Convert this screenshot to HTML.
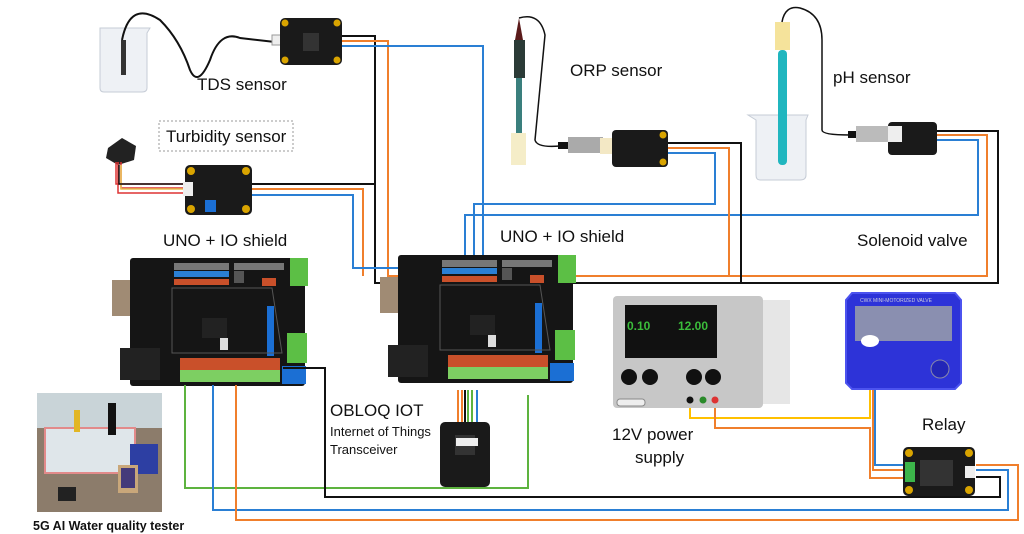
<!DOCTYPE html>
<html><head><meta charset="utf-8"><style>
html,body{margin:0;padding:0;background:#fff;width:1024px;height:534px;overflow:hidden}
svg{display:block}
text{font-family:"Liberation Sans","DejaVu Sans",sans-serif;fill:#111}
</style></head><body>
<svg width="1024" height="534" viewBox="0 0 1024 534" xmlns="http://www.w3.org/2000/svg">
<defs>
<g id="uno">
  <rect x="0" y="22" width="38" height="36" fill="#a08b74"/>
  <rect x="18" y="0" width="175" height="128" fill="#151515" rx="3"/>
  <rect x="8" y="90" width="40" height="32" fill="#222"/>
  <rect x="62" y="5" width="55" height="7" fill="#777"/>
  <rect x="62" y="13" width="55" height="6" fill="#2a7fd4"/>
  <rect x="62" y="21" width="55" height="6" fill="#c9502a"/>
  <rect x="122" y="5" width="50" height="7" fill="#777"/>
  <rect x="122" y="13" width="10" height="12" fill="#555"/>
  <rect x="150" y="20" width="14" height="8" fill="#c9502a"/>
  <rect x="178" y="0" width="18" height="28" fill="#5cbf45"/>
  <rect x="175" y="75" width="20" height="30" fill="#5cbf45"/>
  <rect x="155" y="48" width="7" height="50" fill="#1b6fd4"/>
  <rect x="68" y="100" width="100" height="12" fill="#c9502a"/>
  <rect x="68" y="112" width="100" height="12" fill="#7dcf62"/>
  <rect x="170" y="108" width="24" height="18" fill="#1b6fd4"/>
  <rect x="90" y="60" width="25" height="20" fill="#222"/>
  <path d="M60 30 L160 30 L170 95 L60 95 Z" fill="none" stroke="#555" stroke-width="1"/>
  <rect x="108" y="80" width="8" height="12" fill="#ddd"/>
</g>
</defs>

<!-- wires top -->
<g fill="none" stroke-width="2">
  <path d="M342 36 H375 V283 H998 V131 H935" stroke="#111"/>
  <path d="M252 184 H375" stroke="#111"/>
  <path d="M342 41 H388 V276 H987 V135 H935" stroke="#f07f2c"/>
  <path d="M252 189 H363 V276" stroke="#f07f2c"/>
  <path d="M342 46 H483 V268 H353 V195 H252" stroke="#2a7fd4"/>
  <path d="M465 268 V215 H978 V140 H935" stroke="#2a7fd4"/>
  <path d="M474 268 V204 H715 V153 H665" stroke="#2a7fd4"/>
  <path d="M665 148 H729 V276" stroke="#f07f2c"/>
  <path d="M665 143 H741 V283" stroke="#111"/>
</g>

<!-- TDS beaker -->
<path d="M100 28 H150 L147 33 V88 Q147 92 142 92 H104 Q100 92 100 88 V33 Z" fill="#eef1f5" stroke="#c6ccd6"/>
<rect x="121" y="40" width="5" height="35" fill="#333"/>
<path d="M122 40 Q130 0 160 20 Q180 40 190 70 Q198 88 210 60 Q220 30 240 38 L275 42" fill="none" stroke="#111" stroke-width="2"/>
<rect x="272" y="35" width="10" height="10" fill="#eee" stroke="#999"/>
<rect x="280" y="18" width="62" height="47" rx="5" fill="#1a1a1a"/>
<circle cx="285" cy="23" r="3.5" fill="#d9a400"/><circle cx="337" cy="23" r="3.5" fill="#d9a400"/>
<circle cx="285" cy="60" r="3.5" fill="#d9a400"/><circle cx="337" cy="60" r="3.5" fill="#d9a400"/>
<rect x="303" y="33" width="16" height="18" fill="#333"/>
<text x="197" y="90" font-size="17">TDS sensor</text>

<!-- Turbidity -->
<rect x="159" y="121" width="134" height="30" fill="none" stroke="#999" stroke-dasharray="2,2"/>
<text x="166" y="142" font-size="17">Turbidity sensor</text>
<path d="M108 148 L122 138 L136 146 L134 160 L118 165 L106 158 Z" fill="#222"/>
<path d="M118 162 V193 H185 M121 162 V188 H185 M116 162 V184 H185" fill="none" stroke-width="1.5" stroke="#d33"/>
<path d="M121 165 V189 H185" fill="none" stroke="#e8c050" stroke-width="1.5"/>
<path d="M119 165 V184 H185" fill="none" stroke="#111" stroke-width="1.5"/>
<rect x="185" y="165" width="67" height="50" rx="5" fill="#1a1a1a"/>
<circle cx="191" cy="171" r="4" fill="#d9a400"/><circle cx="246" cy="171" r="4" fill="#d9a400"/>
<circle cx="191" cy="209" r="4" fill="#d9a400"/><circle cx="246" cy="209" r="4" fill="#d9a400"/>
<rect x="205" y="200" width="11" height="12" fill="#1b6fd4"/>
<rect x="183" y="182" width="10" height="14" fill="#eee"/>

<!-- ORP -->
<rect x="514" y="40" width="11" height="38" fill="#2b3b37"/>
<path d="M515 40 L519 18 L523 40 Z" fill="#5a1a1a"/>
<rect x="516" y="78" width="6" height="55" fill="#3a7f7d"/>
<rect x="511" y="133" width="15" height="32" fill="#f5edc8"/>
<path d="M519 18 Q540 12 545 35 L535 140 Q537 148 560 146" fill="none" stroke="#111" stroke-width="1.5"/>
<rect x="558" y="142" width="10" height="7" fill="#111"/>
<rect x="568" y="137" width="35" height="16" fill="#aaa"/>
<rect x="600" y="138" width="15" height="16" fill="#f3e8c5"/>
<rect x="612" y="130" width="56" height="37" rx="4" fill="#1a1a1a"/>
<circle cx="663" cy="135" r="3.5" fill="#d9a400"/><circle cx="663" cy="162" r="3.5" fill="#d9a400"/>
<text x="570" y="76" font-size="17">ORP sensor</text>

<!-- pH -->
<path d="M748 115 H808 L806 120 V175 Q806 180 800 180 H760 Q756 180 756 175 V120 Z" fill="#eef1f5" stroke="#c6ccd6"/>
<rect x="775" y="22" width="15" height="28" fill="#f5e39b"/>
<rect x="778" y="50" width="9" height="115" fill="#20b6bf" rx="4"/>
<path d="M782 22 Q785 5 800 8 Q822 14 822 40 V130 Q822 135 850 135" fill="none" stroke="#111" stroke-width="1.5"/>
<rect x="848" y="131" width="8" height="7" fill="#111"/>
<rect x="856" y="126" width="32" height="16" fill="#bbb"/>
<rect x="888" y="122" width="49" height="33" rx="4" fill="#1a1a1a"/>
<rect x="888" y="126" width="14" height="16" fill="#eee"/>
<text x="833" y="83" font-size="17">pH sensor</text>

<text x="163" y="246" font-size="17">UNO + IO shield</text>
<text x="500" y="242" font-size="17">UNO + IO shield</text>
<text x="857" y="246" font-size="17">Solenoid valve</text>

<!-- boards -->
<use href="#uno" transform="translate(112,258)"/>
<use href="#uno" transform="translate(380,255)"/>

<!-- bottom wires -->
<g fill="none" stroke-width="2">
  <path d="M185 385 V488 H528 V395" stroke="#5db33f"/>
  <path d="M283 368 H325 V497 H1000 V477 H976" stroke="#111"/>
  <path d="M213 385 V510 H1008 V470 H976" stroke="#2a7fd4"/>
  <path d="M236 385 V520 H1018 V465 H976" stroke="#f07f2c"/>
  <path d="M458 390 V440 M462 390 V440" stroke="#f07f2c"/>
  <path d="M465 390 V440" stroke="#111"/>
  <path d="M468 390 V440 M472 390 V440" stroke="#5db33f"/>
  <path d="M477 390 V440" stroke="#2a7fd4"/>
  <path d="M690 400 V418 H870 V388" stroke="#ffc000"/>
  <path d="M715 400 V428 H870 V478 H905" stroke="#f07f2c"/>
  <path d="M875 388 V465 H905" stroke="#2a7fd4"/>
  <path d="M873 388 V470 H905" stroke="#f07f2c"/>
</g>

<!-- OBLOQ -->
<rect x="440" y="422" width="50" height="65" rx="5" fill="#1a1a1a"/>
<rect x="455" y="435" width="20" height="20" fill="#333"/>
<rect x="456" y="438" width="22" height="8" fill="#eee"/>
<text x="330" y="416" font-size="17">OBLOQ IOT</text>
<text x="330" y="436" font-size="13">Internet of Things</text>
<text x="330" y="454" font-size="13">Transceiver</text>

<!-- power supply -->
<rect x="613" y="296" width="150" height="112" rx="4" fill="#c7c7c7"/>
<rect x="763" y="300" width="27" height="104" fill="#e6e6e6"/>
<rect x="625" y="305" width="92" height="53" fill="#111"/>
<text x="627" y="330" font-size="12" fill="#3bbd3b" style="fill:#3bbd3b;font-weight:bold">0.10</text>
<text x="678" y="330" font-size="12" style="fill:#3bbd3b;font-weight:bold">12.00</text>
<circle cx="629" cy="377" r="8" fill="#111"/><circle cx="650" cy="377" r="8" fill="#111"/>
<circle cx="694" cy="377" r="8" fill="#111"/><circle cx="713" cy="377" r="8" fill="#111"/>
<rect x="617" y="399" width="28" height="7" rx="3" fill="#eee" stroke="#888"/>
<circle cx="690" cy="400" r="3.5" fill="#111"/><circle cx="703" cy="400" r="3.5" fill="#2a8a2a"/><circle cx="715" cy="400" r="3.5" fill="#d33"/>
<text x="612" y="440" font-size="17">12V power</text>
<text x="635" y="463" font-size="17">supply</text>

<!-- valve -->
<path d="M852 293 H955 L961 300 V383 L955 389 H852 L846 383 V300 Z" fill="#2d33d8" stroke="#4c53ef" stroke-width="2"/>
<rect x="855" y="306" width="97" height="35" fill="#8a8fb0"/>
<text x="860" y="302" font-size="5" style="fill:#ccd">CWX MINI-MOTORIZED VALVE</text>
<ellipse cx="870" cy="341" rx="9" ry="6" fill="#fff"/>
<circle cx="940" cy="369" r="9" fill="#2226b8" stroke="#88a" />
<text x="922" y="430" font-size="17">Relay</text>
<rect x="903" y="447" width="72" height="49" rx="5" fill="#1a1a1a"/>
<circle cx="909" cy="453" r="4" fill="#d9a400"/><circle cx="969" cy="453" r="4" fill="#d9a400"/>
<circle cx="909" cy="490" r="4" fill="#d9a400"/><circle cx="969" cy="490" r="4" fill="#d9a400"/>
<rect x="920" y="460" width="33" height="26" fill="#333"/>
<rect x="905" y="462" width="10" height="20" fill="#3cb54a"/>
<rect x="965" y="466" width="10" height="12" fill="#eee"/>

<!-- photo -->
<rect x="37" y="393" width="125" height="119" fill="#8c7c6b"/>
<rect x="37" y="393" width="125" height="35" fill="#c9d4d8"/>
<rect x="45" y="428" width="90" height="45" fill="#dfe6ea" stroke="#e28a8a" stroke-width="2"/>
<rect x="130" y="444" width="28" height="30" fill="#2d3fa3"/>
<rect x="118" y="465" width="20" height="28" fill="#c9a77a"/>
<rect x="121" y="468" width="14" height="20" fill="#443a7a"/>
<rect x="74" y="410" width="6" height="22" fill="#e2b624"/>
<rect x="108" y="403" width="8" height="32" fill="#111"/>
<rect x="58" y="487" width="18" height="14" fill="#222"/>
<text x="33" y="530" font-size="12.5" style="font-weight:bold">5G AI Water quality tester</text>
</svg>
</body></html>
